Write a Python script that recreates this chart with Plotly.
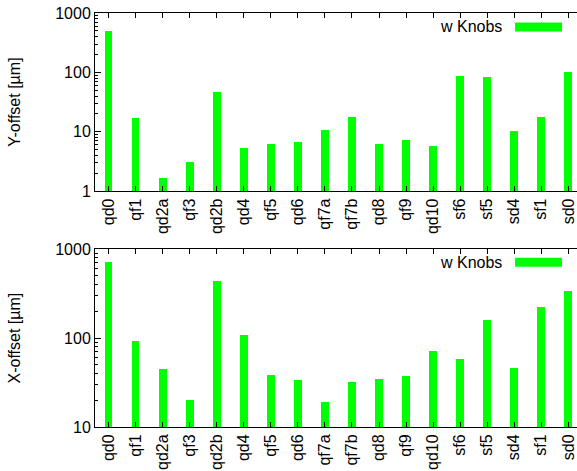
import plotly.graph_objects as go

categories = ["qd0", "qf1", "qd2a", "qf3", "qd2b", "qd4", "qf5", "qd6", "qf7a",
              "qf7b", "qd8", "qf9", "qd10", "sf6", "sf5", "sd4", "sf1", "sd0"]
y_offset = [497, 16.8, 1.65, 3.05, 47, 5.4, 6.25, 6.7, 10.9,
            17.6, 6.25, 7.4, 5.8, 87.5, 82, 10.4, 17.4, 100]
x_offset = [719, 92, 44.5, 20, 436, 107, 38, 33.7, 18.9,
            31.8, 34.4, 37.2, 71.6, 57.3, 158, 45.3, 224, 337]
legend_label = "w Knobs"
y_title = "Y-offset [µm]"
x_title = "X-offset [µm]"

GREEN = "#00ff00"
FONT = "Liberation Sans, Arial, sans-serif"
FS = 16

W, H = 577, 471
ML, MR, MT, MB = 94.5, 0, 13, 44.3
plot_h = H - MT - MB
top_dom = [(H - MB - 191) / plot_h, 1.0]
bot_dom = [0.0, (H - MB - 249) / plot_h]

fig = go.Figure()
fig.add_trace(go.Bar(x=categories, y=y_offset, marker=dict(color=GREEN, line=dict(width=0)),
                     width=0.29, xaxis="x", yaxis="y", showlegend=False))
fig.add_trace(go.Bar(x=categories, y=x_offset, marker=dict(color=GREEN, line=dict(width=0)),
                     width=0.29, xaxis="x2", yaxis="y2", showlegend=False))

xcommon = dict(type="category", range=[-0.5, 17.32], tickangle=-90, automargin=False,
               showline=True, linecolor="black", linewidth=1, mirror="ticks",
               ticks="inside", ticklen=5, tickcolor="black", showgrid=False,
               tickfont=dict(size=FS, color="black", family=FONT))
ycommon = dict(type="log", showline=True, linecolor="black", linewidth=1, mirror=False,
               ticks="inside", ticklen=6, tickcolor="black", showgrid=False, automargin=False,
               tickfont=dict(size=FS, color="black", family=FONT), dtick=1,
               minor=dict(ticks="inside", ticklen=3, tickcolor="black", showgrid=False),
               title=dict(font=dict(size=FS, color="black", family=FONT), standoff=30))

fig.update_layout(
    xaxis=dict(**xcommon, domain=[0, 1], anchor="y"),
    yaxis=dict(**ycommon, domain=top_dom, anchor="x", range=[0, 3]),
    xaxis2=dict(**xcommon, domain=[0, 1], anchor="y2"),
    yaxis2=dict(**ycommon, domain=bot_dom, anchor="x2", range=[1, 3]),
)
fig.layout.yaxis.title.text = y_title
fig.layout.yaxis2.title.text = x_title

# gnuplot-style key: text to the left of the colour sample
for xr, yr, yc, y0, y1 in [("x domain", "y domain", 0.923, 0.896, 0.9466),
                           ("x2 domain", "y2 domain", 0.927, 0.9015, 0.952)]:
    fig.add_annotation(xref=xr, yref=yr, x=0.8487, y=yc, text=legend_label,
                       showarrow=False, xanchor="right", yanchor="middle",
                       font=dict(size=FS, color="black", family=FONT))
    fig.add_shape(type="rect", xref=xr, yref=yr, x0=0.8715, x1=0.9689, y0=y0, y1=y1,
                  fillcolor=GREEN, line=dict(width=0))

fig.update_layout(
    width=W, height=H, margin=dict(l=ML, r=MR, t=MT, b=MB),
    paper_bgcolor="white", plot_bgcolor="white", bargap=0,
    font=dict(family=FONT, size=FS, color="black"),
)
fig.write_html("out.html", config={"displayModeBar": False},
               post_script="document.body.style.margin='0';document.body.style.overflow='hidden';")
